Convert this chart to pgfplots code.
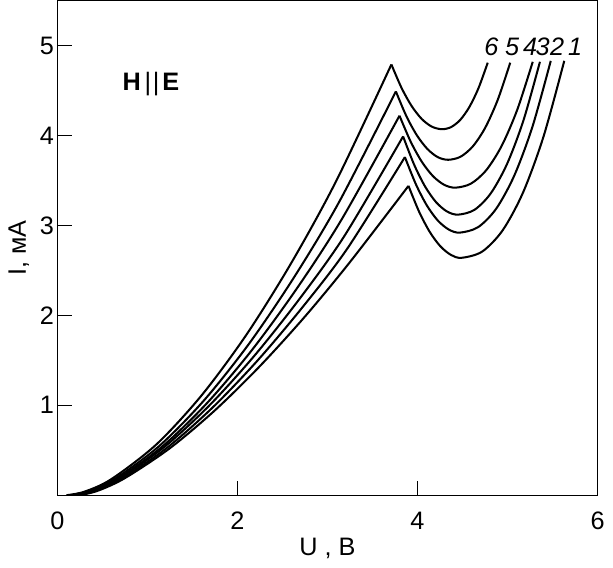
\documentclass[border=0pt]{standalone}
\usepackage{fontspec}
\setmainfont{Liberation Sans}
\usepackage{pgfplots}
\pgfplotsset{compat=1.18}
\tikzset{cv/.style={black, line width=0.8bp, smooth}}
\newcommand{\lbl}{\fontsize{10}{12}\selectfont}
\begin{document}
\begin{tikzpicture}
\begin{axis}[
  scale only axis, width=213.2bp, height=195.2bp,
  xmin=0, xmax=6, ymin=0, ymax=5.5,
  xtick={0,2,4,6}, ytick={1,2,3,4,5},
  tick pos=left, tick align=inside, major tick length=5.8bp,
  axis line style={line width=0.5bp},
  tick style={black, line width=0.5bp},
  every tick label/.append style={font=\lbl},
  /pgf/number format/assume math mode=true,
  yticklabel style={inner xsep=1.2bp},
  xticklabel style={yshift=-3bp},
  xlabel={U , В}, ylabel={I, мА},
  xlabel style={at={(axis description cs:0.5,-0.069)}, anchor=north, font=\lbl},
  ylabel style={at={(axis description cs:-0.036,0.5)}, anchor=south, font=\lbl},
]
% curve 6
\addplot[cv] coordinates {(0.10,0) (0.30,0.039) (0.60,0.179) (1.10,0.565) (1.60,1.108) (2.10,1.785) (2.60,2.586) (3.10,3.500) (3.71,4.79)};
\addplot[cv] coordinates {(3.71,4.79) (3.822,4.531) (3.934,4.329) (4.046,4.185) (4.158,4.099) (4.27,4.07)
  (4.372,4.093) (4.474,4.173) (4.576,4.317) (4.678,4.528) (4.78,4.81)};
% curve 5
\addplot[cv] coordinates {(0.13,0) (0.33,0.040) (0.63,0.177) (1.13,0.546) (1.63,1.056) (2.13,1.686) (2.63,2.425) (3.13,3.262) (3.76,4.49)};
\addplot[cv] coordinates {(3.76,4.49) (3.876,4.216) (3.992,4.004) (4.108,3.852) (4.224,3.760) (4.34,3.73)
  (4.478,3.764) (4.616,3.881) (4.754,4.090) (4.892,4.399) (5.03,4.81)};
% curve 4
\addplot[cv] coordinates {(0.16,0) (0.36,0.042) (0.66,0.178) (1.16,0.537) (1.66,1.022) (2.16,1.613) (2.66,2.299) (3.16,3.071) (3.80,4.22)};
\addplot[cv] coordinates {(3.80,4.22) (3.924,3.932) (4.048,3.708) (4.172,3.548) (4.296,3.452) (4.42,3.42)
  (4.592,3.464) (4.764,3.615) (4.936,3.887) (5.108,4.287) (5.28,4.82)};
% curve 3
\addplot[cv] coordinates {(0.19,0) (0.39,0.046) (0.69,0.186) (1.19,0.538) (1.69,1.000) (2.19,1.553) (2.69,2.184) (3.19,2.886) (3.84,3.99)};
\addplot[cv] coordinates {(3.84,3.99) (3.962,3.677) (4.084,3.433) (4.206,3.259) (4.328,3.155) (4.45,3.12)
  (4.632,3.173) (4.814,3.357) (4.996,3.687) (5.178,4.172) (5.36,4.82)};
% curve 2
\addplot[cv] coordinates {(0.22,0) (0.42,0.048) (0.72,0.187) (1.22,0.529) (1.72,0.971) (2.22,1.494) (2.72,2.087) (3.22,2.742) (3.86,3.76)};
\addplot[cv] coordinates {(3.86,3.76) (3.982,3.458) (4.104,3.222) (4.226,3.054) (4.348,2.954) (4.47,2.92)
  (4.672,2.980) (4.874,3.186) (5.076,3.557) (5.278,4.102) (5.48,4.83)};
% curve 1
\addplot[cv] coordinates {(0.25,0) (0.45,0.050) (0.75,0.190) (1.25,0.523) (1.75,0.944) (2.25,1.436) (2.75,1.987) (3.25,2.593) (3.90,3.44)};
\addplot[cv] coordinates {(3.90,3.44) (4.018,3.152) (4.136,2.928) (4.254,2.768) (4.372,2.672) (4.49,2.64)
  (4.718,2.709) (4.946,2.946) (5.174,3.370) (5.402,3.996) (5.63,4.83)};
% curve numbers
\begin{scope}[every node/.style={font=\itshape\lbl, anchor=base, inner sep=0pt}]
\node at (axis cs:4.82,4.89) {6};
\node at (axis cs:5.05,4.89) {5};
\node at (axis cs:5.25,4.89) {4};
\node at (axis cs:5.39,4.89) {3};
\node at (axis cs:5.55,4.89) {2};
\node at (axis cs:5.75,4.89) {1};
\end{scope}
\node[font=\lbl, anchor=base west, inner sep=0pt] at (axis cs:0.72,4.50)
  {\textbf{H}\kern1.5bp|\kern0.6bp|\kern1.2bp\textbf{E}};
\end{axis}
\end{tikzpicture}
\end{document}
